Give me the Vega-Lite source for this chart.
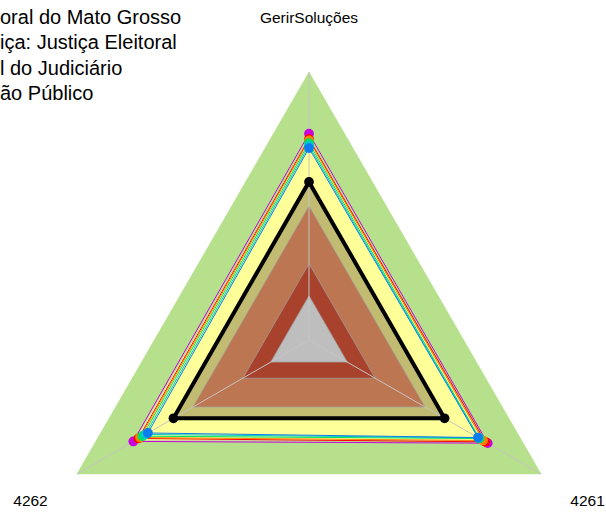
{
  "$schema": "https://vega.github.io/schema/vega-lite/v6.json",
  "width": 606,
  "height": 515,
  "autosize": "none",
  "padding": 0,
  "background": "white",
  "config": {"view": {"stroke": null}},
  "title": {
    "text": ["oral do Mato Grosso", "iça: Justiça Eleitoral", "l do Judiciário", "ão Público"],
    "anchor": "start",
    "frame": "group",
    "orient": "top",
    "offset": -104,
    "baseline": "top",
    "fontSize": 20,
    "font": "Liberation Sans",
    "fontWeight": "normal",
    "lineHeight": 25.4,
    "color": "#000000"
  },
  "data": {
    "values": [
      {"kind": "band", "name": "A", "axis": "GerirSoluções", "value": 1.0},
      {"kind": "band", "name": "A", "axis": "4261", "value": 1.0},
      {"kind": "band", "name": "A", "axis": "4262", "value": 1.0},
      {"kind": "band", "name": "B", "axis": "GerirSoluções", "value": 0.75},
      {"kind": "band", "name": "B", "axis": "4261", "value": 0.75},
      {"kind": "band", "name": "B", "axis": "4262", "value": 0.75},
      {"kind": "band", "name": "C", "axis": "GerirSoluções", "value": 0.585},
      {"kind": "band", "name": "C", "axis": "4261", "value": 0.585},
      {"kind": "band", "name": "C", "axis": "4262", "value": 0.585},
      {"kind": "band", "name": "D", "axis": "GerirSoluções", "value": 0.5},
      {"kind": "band", "name": "D", "axis": "4261", "value": 0.5},
      {"kind": "band", "name": "D", "axis": "4262", "value": 0.5},
      {"kind": "band", "name": "E", "axis": "GerirSoluções", "value": 0.285},
      {"kind": "band", "name": "E", "axis": "4261", "value": 0.285},
      {"kind": "band", "name": "E", "axis": "4262", "value": 0.285},
      {"kind": "band", "name": "F", "axis": "GerirSoluções", "value": 0.165},
      {"kind": "band", "name": "F", "axis": "4261", "value": 0.165},
      {"kind": "band", "name": "F", "axis": "4262", "value": 0.165},
      {"kind": "axis", "name": "eixo", "axis": "GerirSoluções", "value": 1.0},
      {"kind": "axis", "name": "eixo", "axis": "4261", "value": 1.0},
      {"kind": "axis", "name": "eixo", "axis": "4262", "value": 1.0},
      {"kind": "series", "name": "S1", "axis": "GerirSoluções", "value": 0.77},
      {"kind": "series", "name": "S1", "axis": "4261", "value": 0.77},
      {"kind": "series", "name": "S1", "axis": "4262", "value": 0.757},
      {"kind": "series", "name": "S2", "axis": "GerirSoluções", "value": 0.75},
      {"kind": "series", "name": "S2", "axis": "4261", "value": 0.76},
      {"kind": "series", "name": "S2", "axis": "4262", "value": 0.735},
      {"kind": "series", "name": "S3", "axis": "GerirSoluções", "value": 0.745},
      {"kind": "series", "name": "S3", "axis": "4261", "value": 0.75},
      {"kind": "series", "name": "S3", "axis": "4262", "value": 0.728},
      {"kind": "series", "name": "S4", "axis": "GerirSoluções", "value": 0.735},
      {"kind": "series", "name": "S4", "axis": "4261", "value": 0.735},
      {"kind": "series", "name": "S4", "axis": "4262", "value": 0.718},
      {"kind": "series", "name": "S5", "axis": "GerirSoluções", "value": 0.725},
      {"kind": "series", "name": "S5", "axis": "4261", "value": 0.73},
      {"kind": "series", "name": "S5", "axis": "4262", "value": 0.705},
      {"kind": "series", "name": "S6", "axis": "GerirSoluções", "value": 0.716},
      {"kind": "series", "name": "S6", "axis": "4261", "value": 0.728},
      {"kind": "series", "name": "S6", "axis": "4262", "value": 0.694},
      {"kind": "series", "name": "S7", "axis": "GerirSoluções", "value": 0.59},
      {"kind": "series", "name": "S7", "axis": "4261", "value": 0.584},
      {"kind": "series", "name": "S7", "axis": "4262", "value": 0.584}
    ]
  },
  "transform": [
    {"calculate": "indexof(['GerirSoluções','4261','4262'], datum.axis)", "as": "idx"},
    {"calculate": "datum.value * sin(datum.idx * 2 * PI / 3)", "as": "px"},
    {"calculate": "datum.value * cos(datum.idx * 2 * PI / 3)", "as": "py"}
  ],
  "encoding": {
    "x": {"field": "px", "type": "quantitative", "scale": {"domain": [-1.153, 1.1082], "nice": false, "zero": false}, "axis": null},
    "y": {"field": "py", "type": "quantitative", "scale": {"domain": [-0.653, 1.2687], "nice": false, "zero": false}, "axis": null}
  },
  "layer": [
    {
      "transform": [{"filter": "datum.kind === 'band' && datum.name === 'A'"}],
      "mark": {"type": "line", "interpolate": "linear-closed", "fill": "#B7E08C", "stroke": "#B7E08C", "strokeWidth": 0.5},
      "encoding": {"order": {"field": "idx", "type": "quantitative"}}
    },
    {
      "transform": [{"filter": "datum.kind === 'band' && datum.name === 'B'"}],
      "mark": {"type": "line", "interpolate": "linear-closed", "fill": "#FFFF99", "stroke": "#C8C8A0", "strokeWidth": 0.7},
      "encoding": {"order": {"field": "idx", "type": "quantitative"}}
    },
    {
      "transform": [{"filter": "datum.kind === 'band' && datum.name === 'C'"}],
      "mark": {"type": "line", "interpolate": "linear-closed", "fill": "#C1BC72", "stroke": "#A8A8A0", "strokeWidth": 0.7},
      "encoding": {"order": {"field": "idx", "type": "quantitative"}}
    },
    {
      "transform": [{"filter": "datum.kind === 'band' && datum.name === 'D'"}],
      "mark": {"type": "line", "interpolate": "linear-closed", "fill": "#BC7752", "stroke": "#A0A0A0", "strokeWidth": 0.7},
      "encoding": {"order": {"field": "idx", "type": "quantitative"}}
    },
    {
      "transform": [{"filter": "datum.kind === 'band' && datum.name === 'E'"}],
      "mark": {"type": "line", "interpolate": "linear-closed", "fill": "#A8422D", "stroke": "#A0A0A0", "strokeWidth": 0.7},
      "encoding": {"order": {"field": "idx", "type": "quantitative"}}
    },
    {
      "transform": [{"filter": "datum.kind === 'band' && datum.name === 'F'"}],
      "mark": {"type": "line", "interpolate": "linear-closed", "fill": "#BEBEBE", "stroke": "#A0A0A0", "strokeWidth": 0.7},
      "encoding": {"order": {"field": "idx", "type": "quantitative"}}
    },
    {
      "transform": [{"filter": "datum.kind === 'axis'"}],
      "mark": {"type": "rule", "color": "#C4C4C4", "strokeWidth": 1},
      "encoding": {"x2": {"datum": 0}, "y2": {"datum": 0}}
    },
    {
      "transform": [{"filter": "datum.kind === 'series' && datum.name !== 'S7'"}],
      "mark": {"type": "line", "interpolate": "linear-closed", "strokeWidth": 1},
      "encoding": {
        "order": {"field": "idx", "type": "quantitative"},
        "color": {"field": "name", "type": "nominal", "scale": {"domain": ["S1", "S2", "S3", "S4", "S5", "S6", "S7"], "range": ["#C800E0", "#FF0000", "#FF8000", "#00E060", "#00C8C8", "#0A7CF0", "#000000"]}, "legend": null}
      }
    },
    {
      "transform": [{"filter": "datum.kind === 'series' && datum.name !== 'S7'"}],
      "mark": {"type": "point", "filled": true, "size": 95, "opacity": 1},
      "encoding": {
        "color": {"field": "name", "type": "nominal", "scale": {"domain": ["S1", "S2", "S3", "S4", "S5", "S6", "S7"], "range": ["#C800E0", "#FF0000", "#FF8000", "#00E060", "#00C8C8", "#0A7CF0", "#000000"]}, "legend": null}
      }
    },
    {
      "transform": [{"filter": "datum.kind === 'series' && datum.name === 'S7'"}],
      "mark": {"type": "line", "interpolate": "linear-closed", "strokeWidth": 4, "color": "#000000"},
      "encoding": {"order": {"field": "idx", "type": "quantitative"}}
    },
    {
      "transform": [{"filter": "datum.kind === 'series' && datum.name === 'S7'"}],
      "mark": {"type": "point", "filled": true, "size": 95, "opacity": 1, "color": "#000000"},
      "encoding": {}
    },
    {
      "transform": [
        {"filter": "datum.kind === 'axis'"},
        {"calculate": "datum.px * 1.2", "as": "lx"},
        {"calculate": "datum.py * 1.2", "as": "ly"}
      ],
      "mark": {"type": "text", "font": "Liberation Sans", "fontSize": 15.5, "align": "center", "baseline": "middle", "color": "#000000"},
      "encoding": {
        "x": {"field": "lx", "type": "quantitative"},
        "y": {"field": "ly", "type": "quantitative"},
        "text": {"field": "axis", "type": "nominal"}
      }
    }
  ]
}
